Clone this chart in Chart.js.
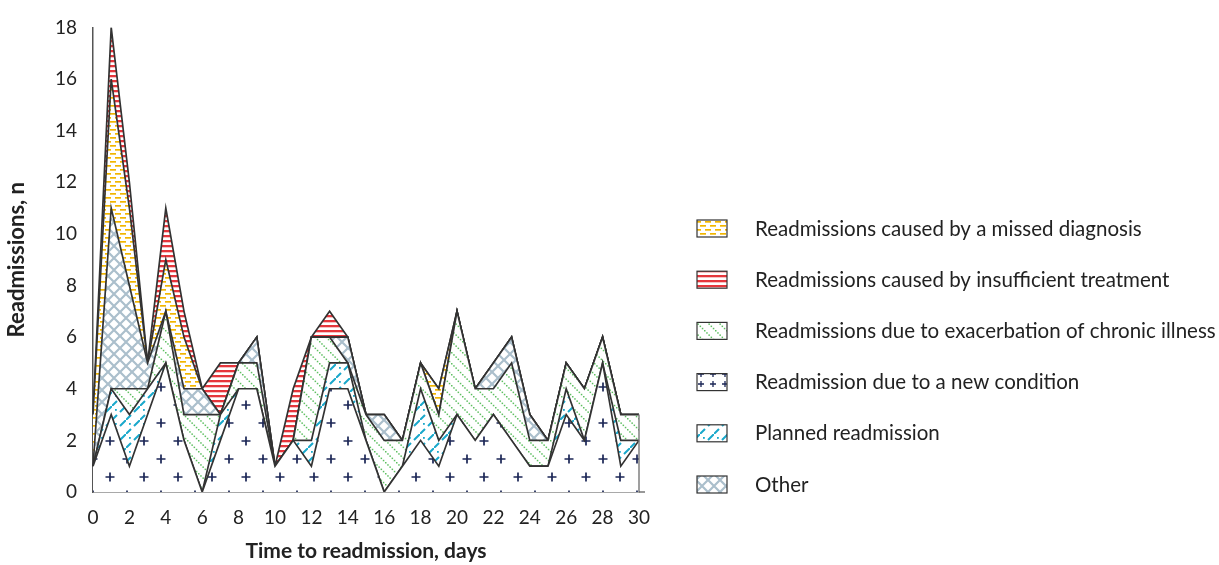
<!DOCTYPE html>
<html>
<head>
<meta charset="utf-8">
<script src="https://cdn.jsdelivr.net/npm/chart.js@4.4.1/dist/chart.umd.min.js"></script>
<style>
  html, body { margin: 0; padding: 0; background: #fff; }
  #wrap { width: 1219px; height: 565px; position: relative; }
</style>
</head>
<body>
<div id="wrap"><canvas id="myChart"></canvas></div>
<script>
// days after discharge (x categories)
const days = [0, 1, 2, 3, 4, 5, 6, 7, 8, 9, 10, 11, 12, 13, 14, 15, 16, 17, 18, 19, 20, 21, 22, 23, 24, 25, 26, 27, 28, 29, 30];

// readmissions per day (stacked bottom to top)
const newCondition = [1, 3, 1, 3, 5, 2, 0, 2, 4, 4, 1, 2, 1, 4, 4, 2, 0, 1, 2, 1, 3, 2, 3, 2, 1, 1, 3, 2, 5, 1, 2];
const planned      = [0, 1, 2, 1, 0, 0, 0, 1, 0, 0, 0, 0, 1, 1, 1, 0, 0, 0, 2, 1, 0, 0, 0, 0, 0, 0, 1, 0, 0, 1, 0];
const chronic      = [0, 0, 1, 0, 2, 1, 3, 0, 1, 1, 0, 0, 4, 1, 0, 1, 2, 1, 1, 1, 4, 2, 1, 3, 1, 1, 1, 2, 1, 1, 1];
const other        = [0, 7, 4, 1, 0, 1, 1, 0, 0, 1, 0, 0, 0, 0, 1, 0, 1, 0, 0, 0, 0, 0, 1, 1, 1, 0, 0, 0, 0, 0, 0];
const missed       = [2, 5, 3, 0, 2, 2, 0, 0, 0, 0, 0, 0, 0, 0, 0, 0, 0, 0, 0, 1, 0, 0, 0, 0, 0, 0, 0, 0, 0, 0, 0];
const insufficient = [0, 2, 1, 0, 2, 1, 0, 2, 0, 0, 0, 2, 0, 1, 0, 0, 0, 0, 0, 0, 0, 0, 0, 0, 0, 0, 0, 0, 0, 0, 0];

const yMax = 18;
const yStep = 2;

// legend order as printed next to the chart
const legendOrder = [
    'Readmissions caused by a missed diagnosis',
    'Readmissions caused by insufficient treatment',
    'Readmissions due to exacerbation of chronic illness',
    'Readmission due to a new condition',
    'Planned readmission',
    'Other'
];

function makePattern(w, h, draw) {
    const c = document.createElement('canvas');
    c.width = w;
    c.height = h;
    const g = c.getContext('2d');
    g.fillStyle = '#fff';
    g.fillRect(0, 0, w, h);
    draw(g);
    return g.createPattern(c, 'repeat');
}

function plus(g, x, y, r) {
    g.beginPath();
    g.moveTo(x - r, y); g.lineTo(x + r, y);
    g.moveTo(x, y - r); g.lineTo(x, y + r);
    g.stroke();
}

// hatch fills
const plusFill = makePattern(34, 36, g => {
    g.strokeStyle = '#1b2656';
    g.lineWidth = 1.7;
    plus(g, 8, 9, 4.5);
    plus(g, 25, 27, 4.5);
});
// denser version for the small legend swatch
const plusSwatch = makePattern(12, 10, g => {
    g.strokeStyle = '#1b2656';
    g.lineWidth = 1.3;
    plus(g, 5, 4, 3);
});
const cyanFill = makePattern(14, 14, g => {
    g.strokeStyle = '#19a8cb';
    g.lineWidth = 2;
    g.beginPath();
    g.moveTo(0, 14); g.lineTo(5, 9);
    g.moveTo(8, 6); g.lineTo(14, 0);
    g.stroke();
    g.fillStyle = '#19a8cb';
    g.fillRect(3, 3, 1.8, 1.8);
});
const greenFill = makePattern(11, 11, g => {
    g.fillStyle = '#5fbf62';
    for (let i = 0; i < 11; i += 2.2) g.fillRect(i, i, 1.5, 1.5);
});
const crossFill = makePattern(12, 12, g => {
    g.strokeStyle = '#abbfcc';
    g.lineWidth = 2.2;
    g.beginPath();
    g.moveTo(0, 0); g.lineTo(12, 12);
    g.moveTo(12, 0); g.lineTo(0, 12);
    g.stroke();
});
const yellowFill = makePattern(10, 8, g => {
    g.fillStyle = '#f2b600';
    g.fillRect(0, 1, 6, 1.7);
    g.fillRect(5, 5, 6, 1.7);
    g.fillRect(-5, 5, 6, 1.7);
});
const redFill = makePattern(5, 5, g => {
    g.fillStyle = '#e5363c';
    g.fillRect(0, 0, 5, 2.3);
});

const edge = '#333333';

function series(label, data, fill, bg) {
    return {
        label: label,
        data: data,
        fill: fill,
        backgroundColor: bg,
        borderColor: edge,
        borderWidth: 1.7,
        pointRadius: 0,
        tension: 0
    };
}

// vertical closing edge at the last day + custom legend on the right
const extras = {
    id: 'extras',
    afterDatasetsDraw(chart) {
        const ctx = chart.ctx;
        const x = chart.scales.x;
        const y = chart.scales.y;
        const last = days.length - 1;
        const total = newCondition[last] + planned[last] + chronic[last] + other[last] + missed[last] + insufficient[last];
        ctx.save();
        ctx.strokeStyle = '#777';
        ctx.lineWidth = 1.4;
        ctx.beginPath();
        ctx.moveTo(x.getPixelForValue(last), y.getPixelForValue(total));
        ctx.lineTo(x.getPixelForValue(last), y.getPixelForValue(0));
        ctx.moveTo(x.right, y.bottom);
        ctx.lineTo(x.right + 6, y.bottom);
        ctx.stroke();
        ctx.restore();
    },
    afterDraw(chart) {
        const ctx = chart.ctx;
        ctx.save();
        ctx.font = '20.5px Lato';
        ctx.textBaseline = 'middle';
        legendOrder.forEach((name, i) => {
            const ds = chart.data.datasets.find(d => d.label === name);
            const cy = 228 + i * 51.2;
            ctx.fillStyle = ds.backgroundColor === plusFill ? plusSwatch : ds.backgroundColor;
            ctx.fillRect(697, cy - 8, 30, 17);
            ctx.strokeStyle = '#333';
            ctx.lineWidth = 1.2;
            ctx.strokeRect(697, cy - 8, 30, 17);
            ctx.fillStyle = '#222';
            ctx.fillText(name, 755, cy + 1);
        });
        ctx.restore();
    }
};

const ctx = document.getElementById('myChart').getContext('2d');
const myChart = new Chart(ctx, {
    type: 'line',
    data: {
        labels: days,
        datasets: [
            series('Readmission due to a new condition', newCondition, 'origin', plusFill),
            series('Planned readmission', planned, '-1', cyanFill),
            series('Readmissions due to exacerbation of chronic illness', chronic, '-1', greenFill),
            series('Other', other, '-1', crossFill),
            series('Readmissions caused by a missed diagnosis', missed, '-1', yellowFill),
            series('Readmissions caused by insufficient treatment', insufficient, '-1', redFill)
        ]
    },
    options: {
        responsive: true,
        maintainAspectRatio: false,
        animation: false,
        layout: { padding: { left: 0, right: 580, top: 17, bottom: 0 } },
        plugins: {
            legend: { display: false },
            tooltip: { enabled: false }
        },
        scales: {
            x: {
                offset: false,
                grid: { display: false, drawTicks: false },
                border: { display: true, color: '#555', width: 1.5 },
                ticks: {
                    autoSkip: false,
                    maxRotation: 0,
                    padding: 14,
                    color: '#222',
                    font: { family: 'Lato', size: 19 },
                    callback: (v, i) => (days[i] % 2 === 0 ? String(days[i]) : '')
                },
                title: {
                    display: true,
                    text: 'Time to readmission, days',
                    color: '#222',
                    font: { family: 'Lato', size: 21, weight: 'bold' },
                    padding: { top: 0, bottom: 1 }
                },
                afterFit: s => { s.height = 73; }
            },
            y: {
                stacked: true,
                min: 0,
                max: yMax,
                grid: { display: false, drawTicks: false },
                border: { display: true, color: '#555', width: 1.5 },
                ticks: {
                    stepSize: yStep,
                    padding: 16,
                    color: '#222',
                    font: { family: 'Lato', size: 19 }
                },
                title: {
                    display: true,
                    text: 'Readmissions, n',
                    color: '#222',
                    font: { family: 'Lato', size: 22, weight: 'bold' },
                    padding: { top: 4, bottom: 0 }
                },
                afterFit: s => { s.width = 93; }
            }
        }
    },
    plugins: [extras]
});
</script>
</body>
</html>
